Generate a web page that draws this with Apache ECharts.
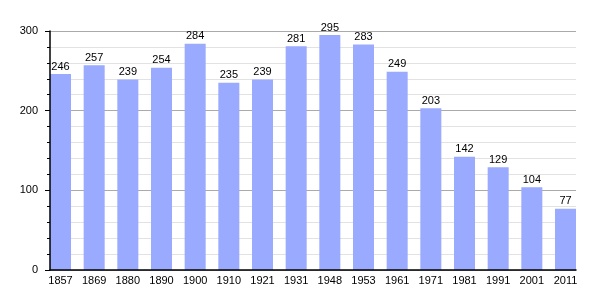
<!DOCTYPE html>
<html><head><meta charset="utf-8">
<script src="https://cdn.jsdelivr.net/npm/echarts@6/dist/echarts.min.js"></script>
<style>html,body{margin:0;padding:0;background:#fff}#c{width:605px;height:300px}</style>
</head><body><div id="c"></div>
<script>
const years = ['1857','1869','1880','1890','1900','1910','1921','1931','1948','1953','1961','1971','1981','1991','2001','2011'];
const population = [246,257,239,254,284,235,239,281,295,283,249,203,142,129,104,77];
const yTicks = [0,100,200,300];

(function(){
const font = 'Liberation Sans';
const chart = echarts.init(document.getElementById('c'), null, {renderer:'canvas'});
const plotL = 50, plotR = 576, gTop = 31, gBottom = 30;
const barW = 21;
const pitch = (plotR - plotL - barW) / (years.length - 1);
const barL = plotL + barW/2 - pitch/2;
const barR = barL + pitch * years.length;

chart.setOption({
  animation:false,
  grid:[
    {left:plotL, right:605-plotR, top:gTop, bottom:gBottom},
    {left:barL, right:605-barR, top:gTop, bottom:gBottom}
  ],
  xAxis:[
    {gridIndex:0, type:'value', min:0, max:1, show:true, z:10, position:'bottom',
     axisLine:{show:true, onZero:false, lineStyle:{color:'#000', width:1.5}},
     axisTick:{show:false}, axisLabel:{show:false}, splitLine:{show:false}},
    {gridIndex:1, type:'category', data:years, boundaryGap:true, position:'bottom',
     axisLine:{show:false}, axisTick:{show:false},
     axisLabel:{color:'#000', fontFamily:font, fontSize:11, margin:5, interval:0}}
  ],
  yAxis:[
    {gridIndex:0, type:'value', min:0, max:300, interval:100, z:0, position:'left',
     axisLine:{show:false}, axisTick:{show:false}, axisLabel:{show:false},
     splitLine:{show:true, lineStyle:{color:'#aaaaaa', width:1}},
     minorTick:{show:false, splitNumber:5},
     minorSplitLine:{show:true, lineStyle:{color:'#e2e2e2', width:1}}},
    {gridIndex:1, type:'value', min:0, max:300, interval:100, show:false, position:'left',
     splitLine:{show:false}},
    {gridIndex:0, type:'value', min:0, max:300, interval:100, z:10, position:'left', offset:0,
     axisLine:{show:true, lineStyle:{color:'#000', width:1.5}},
     axisTick:{show:true, length:5, lineStyle:{color:'#000'}},
     minorTick:{show:true, splitNumber:5, length:3, lineStyle:{color:'#000'}},
     axisLabel:{color:'#000', fontFamily:font, fontSize:11, margin:12,
       formatter:v=> yTicks.includes(v) ? String(v) : ''},
     splitLine:{show:false}}
  ],
  series:[
    {type:'bar', xAxisIndex:1, yAxisIndex:1, data:population, barWidth:barW,
     itemStyle:{color:'#99aaff'}, z:2,
     label:{show:true, position:'top', distance:2, color:'#000', fontFamily:font, fontSize:11}}
  ]
});
})();
</script></body></html>
